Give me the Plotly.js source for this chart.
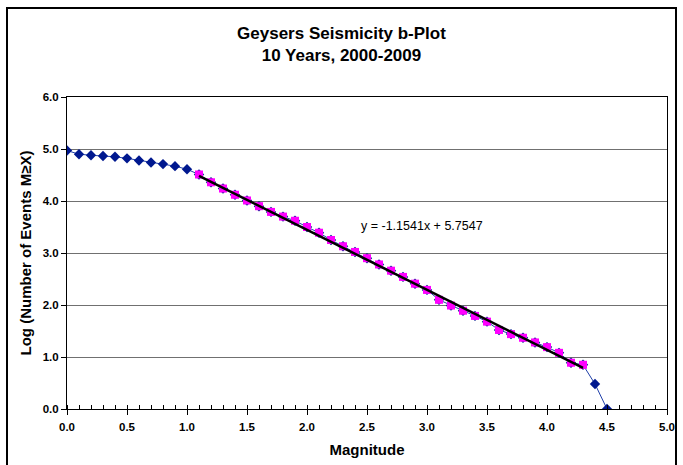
<!DOCTYPE html>
<html>
<head>
<meta charset="utf-8">
<script src="https://cdn.plot.ly/plotly-3.0.1.min.js"></script>
<style>html,body{margin:0;padding:0;background:#fff;}#chart{width:683px;height:465px;}</style>
</head>
<body>
<div id="chart"></div>
<script>
// All events: magnitude and log(number of events M>=X)
var magnitude = [0.0,0.1,0.2,0.3,0.4,0.5,0.6,0.7,0.8,0.9,1.0,1.1,1.2,1.3,1.4,1.5,1.6,1.7,1.8,1.9,2.0,2.1,2.2,2.3,2.4,2.5,2.6,2.7,2.8,2.9,3.0,3.1,3.2,3.3,3.4,3.5,3.6,3.7,3.8,3.9,4.0,4.1,4.2,4.3,4.4,4.5];
var logEvents = [4.97,4.90,4.88,4.865,4.85,4.82,4.78,4.74,4.71,4.67,4.61,4.51,4.36,4.24,4.12,4.01,3.90,3.79,3.70,3.62,3.50,3.39,3.25,3.13,3.02,2.90,2.78,2.66,2.54,2.41,2.29,2.10,1.99,1.89,1.79,1.68,1.52,1.44,1.37,1.28,1.19,1.08,0.89,0.85,0.48,0.0];
// Fitted range (magenta)
var fitMagnitude = [1.1,1.2,1.3,1.4,1.5,1.6,1.7,1.8,1.9,2.0,2.1,2.2,2.3,2.4,2.5,2.6,2.7,2.8,2.9,3.0,3.1,3.2,3.3,3.4,3.5,3.6,3.7,3.8,3.9,4.0,4.1,4.2,4.3];
var fitLogEvents = [4.51,4.36,4.24,4.12,4.01,3.90,3.79,3.70,3.62,3.50,3.39,3.25,3.13,3.02,2.90,2.78,2.66,2.54,2.41,2.29,2.10,1.99,1.89,1.79,1.68,1.52,1.44,1.37,1.28,1.19,1.08,0.89,0.85];
// Trendline endpoints (y = -1.1541x + 5.7547)
var trendX = [1.1, 4.3];
var trendY = [4.485, 0.792];
var trendLabel = "y = -1.1541x + 5.7547";
var xTicks = [0,0.5,1,1.5,2,2.5,3,3.5,4,4.5,5];
var xTickText = ["0.0","0.5","1.0","1.5","2.0","2.5","3.0","3.5","4.0","4.5","5.0"];
var yTicks = [0,1,2,3,4,5,6];
var yTickText = ["0.0","1.0","2.0","3.0","4.0","5.0","6.0"];

var F = "Liberation Sans, Arial, sans-serif";
var traces = [
  {x: magnitude, y: logEvents, type: "scatter", mode: "lines+markers",
   line: {color: "#1f3fa8", width: 1},
   marker: {symbol: "diamond", size: 8, color: "#00188f"}, hoverinfo: "none"},
  {x: fitMagnitude, y: fitLogEvents, type: "scatter", mode: "markers",
   marker: {symbol: "square", size: 8, color: "#ff00ff"}, hoverinfo: "none"},
  {x: trendX, y: trendY, type: "scatter", mode: "lines",
   line: {color: "#000000", width: 2.5}, hoverinfo: "none"}
];
var layout = {
  width: 683, height: 465,
  margin: {l: 67, r: 16, t: 97, b: 56},
  paper_bgcolor: "#ffffff", plot_bgcolor: "#ffffff",
  showlegend: false,
  font: {family: F, color: "#000"},
  title: {text: "<b>Geysers Seismicity b-Plot<br>10 Years, 2000-2009</b>",
          font: {family: F, size: 17, color: "#000"},
          x: 0.5, xref: "container", y: 0.916, yref: "container", yanchor: "middle"},
  xaxis: {range: [0, 5], tickvals: xTicks, ticktext: xTickText,
          showgrid: false, zeroline: false, showline: true, linecolor: "#000", linewidth: 1,
          mirror: true, ticks: "outside", ticklen: 5, tickcolor: "#000", ticklabelstandoff: 2,
          minor: {dtick: 0.1, ticks: "inside", ticklen: 4, tickcolor: "#000", showgrid: false},
          tickfont: {family: F, size: 11.5, color: "#000", weight: "bold"},
          title: {text: "<b>Magnitude</b>", font: {family: F, size: 15, color: "#000"}, standoff: 12}},
  yaxis: {range: [0, 6], tickvals: yTicks, ticktext: yTickText,
          showgrid: true, gridcolor: "#707070", gridwidth: 1, zeroline: false,
          showline: true, linecolor: "#000", linewidth: 1, mirror: true,
          ticks: "outside", ticklen: 5, tickcolor: "#000",
          tickfont: {family: F, size: 11.5, color: "#000", weight: "bold"},
          title: {text: "<b>Log (Number of Events M\u2265X)</b>", font: {family: F, size: 15, color: "#000"}, standoff: 7}},
  annotations: [{x: 2.43, y: 3.52, xref: "x", yref: "y", text: trendLabel, showarrow: false,
                 xanchor: "left", yanchor: "middle", font: {family: F, size: 12.5, color: "#000"}}],
  shapes: [{type: "rect", xref: "paper", yref: "paper",
            x0: -0.1, x1: 1.015, y0: -0.25, y1: 1.2855,
            line: {color: "#000", width: 2}, fillcolor: "rgba(0,0,0,0)", layer: "above"}]
};
Plotly.newPlot("chart", traces, layout, {staticPlot: true, displayModeBar: false});
</script>
</body>
</html>
